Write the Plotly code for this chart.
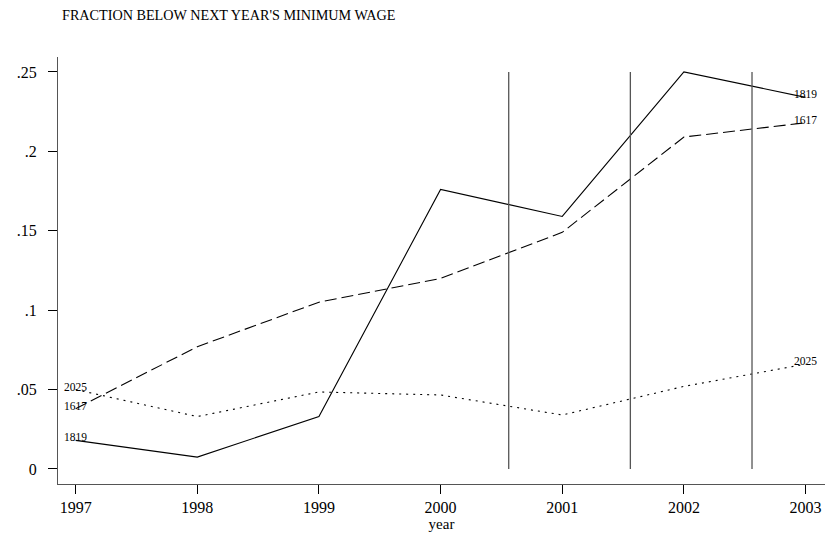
import plotly.graph_objects as go

years = [1997, 1998, 1999, 2000, 2001, 2002, 2003]
frac_1819 = [0.018, 0.0075, 0.033, 0.176, 0.159, 0.250, 0.234]
frac_1617 = [0.038, 0.077, 0.105, 0.120, 0.149, 0.209, 0.218]
frac_2025 = [0.050, 0.033, 0.0485, 0.0466, 0.034, 0.052, 0.066]
series_names = ["1819", "1617", "2025"]
vline_years = [2000.56, 2001.56, 2002.56]
y_tickvals = [0, 0.05, 0.1, 0.15, 0.2, 0.25]
y_ticktext = ["0", ".05", ".1", ".15", ".2", ".25"]

FONT = "Liberation Serif, Times New Roman, serif"

fig = go.Figure()
styles = {"1819": "solid", "1617": "12px,5px", "2025": "2px,5px"}
data = {"1819": frac_1819, "1617": frac_1617, "2025": frac_2025}
for name in series_names:
    fig.add_trace(go.Scatter(x=years, y=data[name], mode="lines", name=name,
                             line=dict(color="black", width=1.1, dash=styles[name]),
                             showlegend=False, cliponaxis=False))
    for i in (0, -1):
        fig.add_annotation(x=years[i], y=data[name][i], text=name, showarrow=False,
                           xanchor="center", yanchor="middle", yshift=3,
                           font=dict(family=FONT, size=11.5, color="black"))

for vx in vline_years:
    fig.add_shape(type="line", xref="x", yref="y", x0=vx, x1=vx, y0=0, y1=0.25,
                  line=dict(color="#555555", width=1.3))

fig.update_layout(
    width=825, height=533,
    paper_bgcolor="white", plot_bgcolor="white",
    margin=dict(l=58, r=0, t=57, b=49),
    font=dict(family=FONT, size=16, color="black"),
    title=dict(text="FRACTION BELOW NEXT YEAR'S MINIMUM WAGE", x=62/825, xanchor="left",
               y=1 - 15/533, yanchor="middle", font=dict(family=FONT, size=14.2, color="black")),
)
fig.update_xaxes(range=[1996.855, 2003.16], tickvals=years, ticks="outside", ticklen=9,
                 tickcolor="black", tickwidth=1, showgrid=False, zeroline=False,
                 showline=True, linecolor="#555555", linewidth=1.3,
                 title=dict(text="year", font=dict(family=FONT, size=15), standoff=0),
                 tickfont=dict(family=FONT, size=16), ticklabeloverflow="allow")
fig.update_yaxes(range=[-0.00945, 0.2594], tickvals=y_tickvals, ticktext=y_ticktext,
                 ticks="outside", ticklen=9, tickcolor="black", tickwidth=1,
                 ticklabelstandoff=8,
                 showgrid=False, zeroline=False, showline=True, linecolor="#555555",
                 linewidth=1.3, tickfont=dict(family=FONT, size=16))

fig.write_html("out.html", config={"displayModeBar": False},
               post_script="document.body.style.margin='0';document.body.style.overflow='hidden';")
